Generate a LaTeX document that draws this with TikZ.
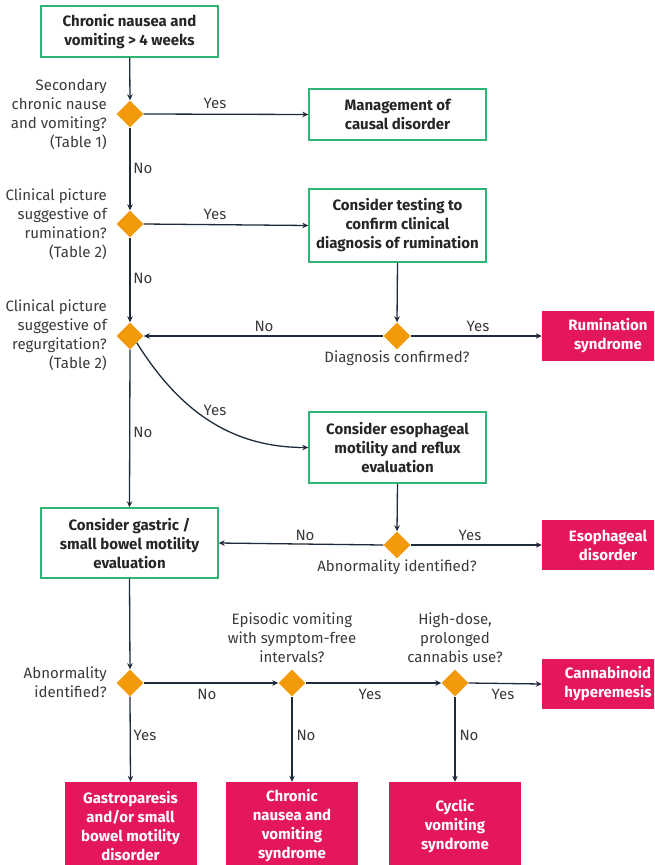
\documentclass[tikz,border=0pt]{standalone}
\usepackage{fontspec}
\setmainfont{Fira Sans}
\usetikzlibrary{shapes.geometric,arrows.meta}
\definecolor{gboxc}{HTML}{2FB574}
\definecolor{diac}{HTML}{F39A0B}
\definecolor{pinkc}{HTML}{E3175A}
\definecolor{navyc}{HTML}{1E2B3A}
\definecolor{txtc}{HTML}{262626}
\definecolor{lblc}{HTML}{3A3A3A}
\begin{document}
\begin{tikzpicture}[x=1pt,y=-1pt,
  gbox/.style={draw=gboxc, line width=1.4pt, fill=white, align=center,
    font=\fontsize{15}{19}\selectfont\bfseries, text=txtc, inner sep=0pt,
    minimum width=177pt},
  pbox/.style={fill=pinkc, align=center, font=\fontsize{15}{19}\selectfont\bfseries,
    text=white, inner sep=0pt, minimum width=132pt},
  dia/.style={diamond, fill=diac, inner sep=0pt, minimum width=27pt, minimum height=27pt},
  lbl/.style={font=\fontsize{15}{19}\selectfont, text=lblc, inner sep=0pt},
  arr/.style={draw=navyc, line width=1.3pt, -{Stealth[length=6pt,width=5.5pt]}}
]
\useasboundingbox (0,0) rectangle (654,865);
\clip (0,0) rectangle (654,865);

% boxes
\node[gbox, minimum height=51pt] (top) at (129.5,31.5) {Chronic nausea and\\vomiting > 4 weeks};
\node[gbox, minimum height=51pt] (mgmt) at (397.5,114.5) {Management of\\causal disorder};
\node[gbox, minimum height=73pt] (test) at (397.5,225.5) {Consider testing to\\confirm clinical\\diagnosis of rumination};
\node[gbox, minimum height=71pt] (esoev) at (397.5,447.5) {Consider esophageal\\motility and reflux\\evaluation};
\node[gbox, minimum height=70pt] (gast) at (129.5,543) {Consider gastric /\\small bowel motility\\evaluation};

\node[pbox, minimum height=50pt] (rum) at (608,336) {Rumination\\syndrome};
\node[pbox, minimum height=50pt] (esod) at (608,545) {Esophageal\\disorder};
\node[pbox, minimum height=50pt] (cann) at (608,684) {Cannabinoid\\hyperemesis};
\node[pbox, minimum height=88pt] (gp) at (130.5,826) {Gastroparesis\\and/or small\\bowel motility\\disorder};
\node[pbox, minimum height=88pt] (cnv) at (292,826) {Chronic\\nausea and\\vomiting\\syndrome};
\node[pbox, minimum height=88pt] (cyc) at (455,826) {Cyclic\\vomiting\\syndrome};

% diamonds
\node[dia] (d1) at (130,114) {};
\node[dia] (d2) at (130,224) {};
\node[dia] (d3) at (130,336) {};
\node[dia] (dc) at (397,336) {};
\node[dia] (de) at (397,545) {};
\node[dia] (dg) at (130,683) {};
\node[dia] (dep) at (292,683) {};
\node[dia] (dcan) at (455,683) {};

% question labels
\node[lbl, align=right, anchor=east] (q1) at (107,114.5) {Secondary\\chronic nause\\and vomiting?\\(Table 1)};
\node[lbl, align=right, anchor=east] (q2) at (107,224.5) {Clinical picture\\suggestive of\\rumination?\\(Table 2)};
\node[lbl, align=right, anchor=east] (q3) at (107,335.5) {Clinical picture\\suggestive of\\regurgitation?\\(Table 2)};
\node[lbl, align=right, anchor=east] (q4) at (107,682.5) {Abnormality\\identified?};
\node[lbl] (qc) at (397,358) {Diagnosis confirmed?};
\node[lbl] (qe) at (397,567) {Abnormality identified?};
\node[lbl, align=center] (qep) at (292,638) {Episodic vomiting\\with symptom-free\\intervals?};
\node[lbl, align=center] (qcan) at (455,638) {High-dose,\\prolonged\\cannabis use?};

% connectors
\draw[arr] (top) -- (d1.north);
\draw[arr] (d1.east) -- (mgmt.west);
\draw[arr] (d1.south) -- (d2.north);
\draw[arr] (d2.east) -- (test.west);
\draw[arr] (d2.south) -- (d3.north);
\draw[arr] (test.south) -- (dc.north);
\draw[arr] (dc.west) -- (d3.east);
\draw[arr] (dc.east) -- (rum.west);
\draw[arr] (d3.south east) to[out=-58,in=180] (esoev.west);
\draw[arr] (d3.south) -- (gast.north);
\draw[arr] (esoev.south) -- (de.north);
\draw[arr] (de.west) -- (gast.east);
\draw[arr] (de.east) -- (esod.west);
\draw[arr] (gast.south) -- (dg.north);
\draw[arr] (dg.east) -- (dep.west);
\draw[arr] (dep.east) -- (dcan.west);
\draw[arr] (dcan.east) -- (cann.west);
\draw[arr] (dg.south) -- (gp.north);
\draw[arr] (dep.south) -- (cnv.north);
\draw[arr] (dcan.south) -- (cyc.north);

% edge labels
\node[lbl] (l1) at (215,103) {Yes};
\node[lbl] (l2) at (143,168) {No};
\node[lbl] (l3) at (215,214) {Yes};
\node[lbl] (l4) at (143,278) {No};
\node[lbl] (l5) at (264,326) {No};
\node[lbl] (l6) at (478,326) {Yes};
\node[lbl] (l7) at (215,410) {Yes};
\node[lbl] (l8) at (143,432) {No};
\node[lbl] (l9) at (305,535) {No};
\node[lbl] (l10) at (470,535) {Yes};
\node[lbl] (l11) at (207,694) {No};
\node[lbl] (l12) at (370,694) {Yes};
\node[lbl] (l13) at (503,694) {Yes};
\node[lbl] (l14) at (145,735) {Yes};
\node[lbl] (l15) at (306,735) {No};
\node[lbl] (l16) at (469,735) {No};
\end{tikzpicture}
\end{document}
